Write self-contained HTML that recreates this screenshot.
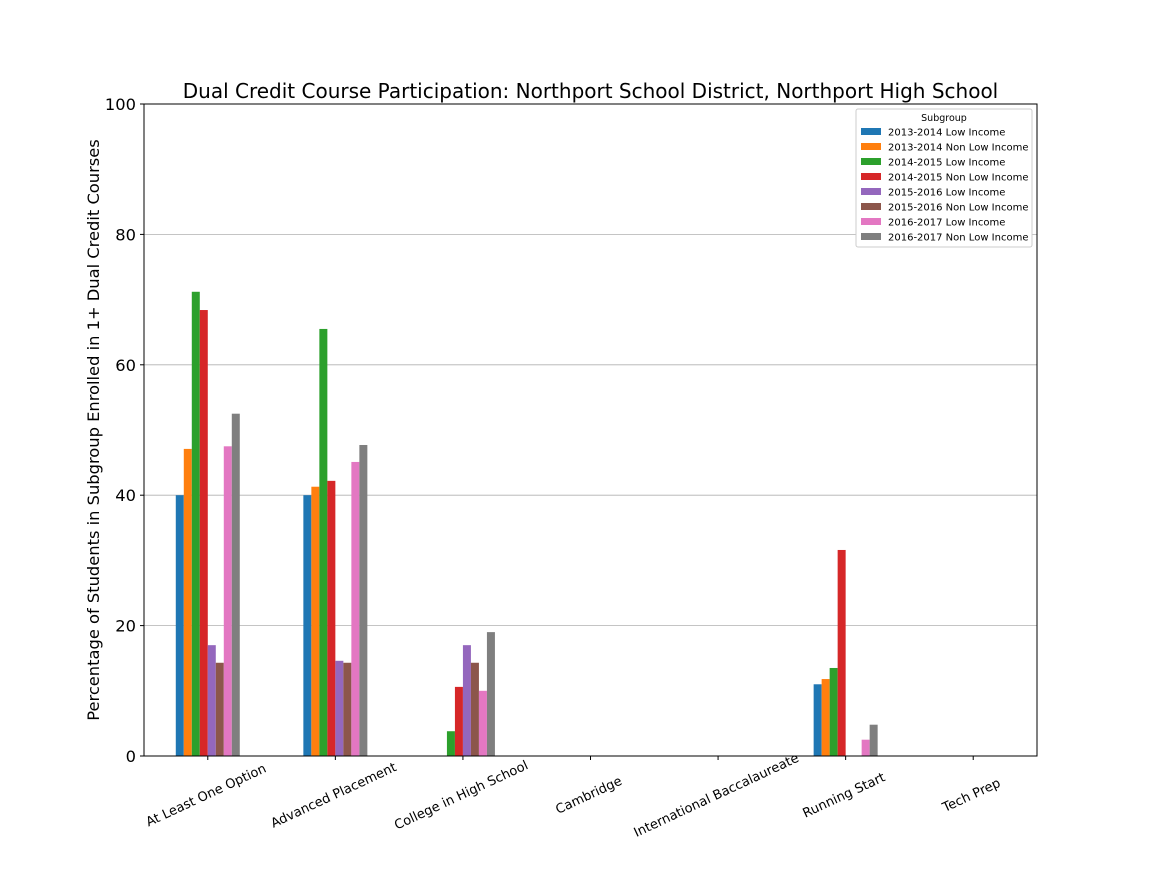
<!DOCTYPE html>
<html><head><meta charset="utf-8"><style>
body{margin:0;background:#fff;font-family:"Liberation Sans","DejaVu Sans",sans-serif;}
svg text{font-family:"DejaVu Sans","Liberation Sans",sans-serif;}
</style></head><body>
<svg id="chart" width="1152" height="864" xmlns="http://www.w3.org/2000/svg">
<rect width="1152" height="864" fill="#fff"/>
<text x="590.5" y="98" font-size="20" text-anchor="middle">Dual Credit Course Participation: Northport School District, Northport High School</text>
<g id="grid"></g><g id="bars"></g><g id="axes"></g><g id="legend"></g>
<text transform="translate(99,430) rotate(-90)" font-size="16.3" text-anchor="middle">Percentage of Students in Subgroup Enrolled in 1+ Dual Credit Courses</text>
</svg>
<script>
const categories=["At Least One Option","Advanced Placement","College in High School","Cambridge","International Baccalaureate","Running Start","Tech Prep"];
const seriesNames=["2013-2014 Low Income","2013-2014 Non Low Income","2014-2015 Low Income","2014-2015 Non Low Income","2015-2016 Low Income","2015-2016 Non Low Income","2016-2017 Low Income","2016-2017 Non Low Income"];
const s0=[40,40,0,0,0,11.0,0];
const s1=[47.1,41.3,0,0,0,11.8,0];
const s2=[71.2,65.5,3.8,0,0,13.5,0];
const s3=[68.4,42.2,10.6,0,0,31.6,0];
const s4=[17.0,14.6,17.0,0,0,0,0];
const s5=[14.3,14.3,14.3,0,0,0,0];
const s6=[47.5,45.1,10.0,0,0,2.5,0];
const s7=[52.5,47.7,19.0,0,0,4.8,0];
const series=[s0,s1,s2,s3,s4,s5,s6,s7];
const colors=["#1f77b4","#ff7f0e","#2ca02c","#d62728","#9467bd","#8c564b","#e377c2","#7f7f7f"];
const yTicks=[0,20,40,60,80,100];
const L=144,R=1037,T=104,B=756;
const NS="http://www.w3.org/2000/svg";
const y=v=>B-(v/100)*(B-T);
const gw=(R-L)/categories.length;
const xc=i=>L+gw*(i+0.5);
const bw=8;
function mk(tag,attrs,parent,text){const e=document.createElementNS(NS,tag);for(const k in attrs)e.setAttribute(k,attrs[k]);if(text!==undefined)e.textContent=text;parent.appendChild(e);return e;}
const grid=document.getElementById('grid'),bars=document.getElementById('bars'),axes=document.getElementById('axes'),leg=document.getElementById('legend');
yTicks.forEach(t=>{
 const gl=mk('line',{x1:L,x2:R,y1:y(t),y2:y(t),stroke:'#b0b0b0','stroke-width':0.8},grid);
 
 
 mk('line',{x1:L-4,x2:L,y1:y(t),y2:y(t),stroke:'#000'},axes);
 const tl=mk('text',{x:L-8,y:y(t)+6,'font-size':16.3,'text-anchor':'end'},axes,String(t));
 
 
});
series.forEach((s,j)=>{
 s.forEach((v,i)=>{
  const x=xc(i)-4*bw+j*bw;
  const r=mk('rect',{x:x,y:y(v),width:bw,height:B-y(v),fill:colors[j]},bars);
  
  
 });
});
mk('rect',{x:L,y:T,width:R-L,height:B-T,fill:'none',stroke:'#000','stroke-width':1},axes);
categories.forEach((c,i)=>{
 mk('line',{x1:xc(i),x2:xc(i),y1:B,y2:B+4,stroke:'#000'},axes);
 const t=mk('text',{x:0,y:0,'font-size':13,'text-anchor':'middle',transform:`translate(${xc(i)},${B+43}) rotate(-25)`},axes,c);
 
 
});
const lb=mk('rect',{x:856,y:109,width:176,height:138,fill:'#fff',stroke:'#ccc',rx:2},leg);


mk('text',{x:944,y:121,'font-size':9.5,'text-anchor':'middle'},leg,'Subgroup');
seriesNames.forEach((n,j)=>{
 const yy=132+j*15;
 const sw=mk('rect',{x:861,y:yy-4,width:20,height:7,fill:colors[j]},leg);
 
 
 const t=mk('text',{x:888,y:yy+3.5,'font-size':10},leg,n);
 
 
});
</script>
</body></html>
